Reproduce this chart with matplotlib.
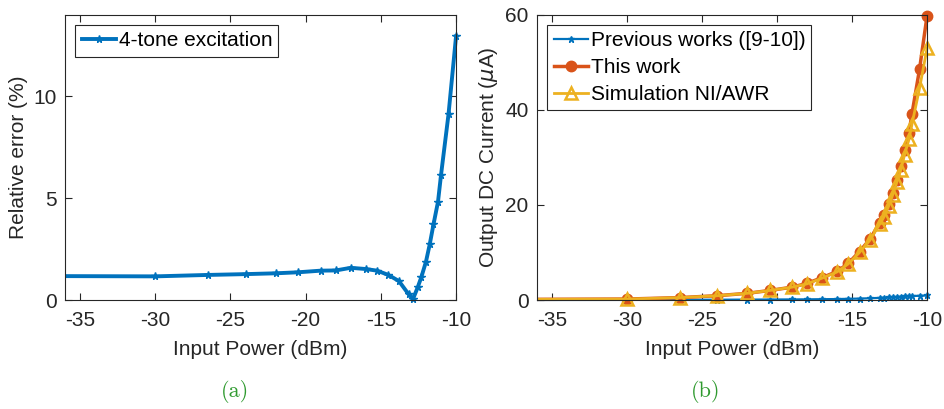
import numpy as np
import matplotlib.pyplot as plt
from matplotlib.transforms import Bbox, TransformedBbox

# input power sweep (dBm)
p_in = [-40, -30, -26.5, -24, -22, -20.5, -19, -18, -17, -16, -15.25, -14.5,
        -13.8, -13.15, -12.86, -12.55, -12.3, -12.0, -11.75, -11.5, -11.2,
        -11.0, -10.5, -10.0]

# (a) relative error (%)
rel_err = [1.18, 1.16, 1.23, 1.27, 1.31, 1.36, 1.44, 1.45, 1.58, 1.52, 1.44,
           1.23, 0.93, 0.28, 0.05, 0.62, 1.14, 1.88, 2.73, 3.71, 4.82, 6.13,
           9.12, 12.94]

# (b) output DC current (uA)
prev_works = [0.0, 0.02, 0.04, 0.06, 0.08, 0.1, 0.12, 0.14, 0.17, 0.2, 0.25,
              0.3, 0.37, 0.45, 0.5, 0.55, 0.6, 0.65, 0.7, 0.75, 0.78, 0.82,
              0.9, 0.95]
this_work = [0.1, 0.2, 0.5, 0.9, 1.4, 2.0, 2.7, 3.5, 4.7, 6.0, 7.7, 10.2, 12.8,
             16.3, 17.9, 20.2, 22.6, 25.2, 28.2, 31.5, 35.2, 39.2, 48.5, 59.7]
sim_awr = [0.1, 0.2, 0.5, 0.9, 1.4, 2.0, 2.7, 3.4, 4.6, 5.9, 7.6, 10.0, 12.6,
           16.0, 17.5, 19.8, 22.0, 24.9, 27.3, 30.5, 33.8, 37.0, 44.5, 52.9]

c_blue = '#0072BD'
c_orange = '#D95319'
c_yellow = '#EDB120'
c_ax = '#262626'

plt.rcParams['font.family'] = ['Liberation Sans', 'DejaVu Sans']
plt.rcParams['axes.unicode_minus'] = False

fig = plt.figure(figsize=(9.44, 4.09), dpi=100)
ax1 = fig.add_axes([0.0689, 0.2665, 0.4142, 0.6975])
ax2 = fig.add_axes([0.5689, 0.2665, 0.4131, 0.6975])

lines = []
lines += ax1.plot(p_in, rel_err, '-', color=c_blue, lw=2.8, marker='*', ms=5.5,
                  label='4-tone excitation')
ax1.set_xlim(-36, -10)
ax1.set_ylim(0, 14)
ax1.set_yticks([0, 5, 10])
ax1.set_ylabel('Relative error (%)', fontsize=15, color=c_ax)

lines += ax2.plot(p_in, prev_works, '-', color=c_blue, lw=1.6, marker='*', ms=4.5,
                  label='Previous works ([9-10])')
lines += ax2.plot(p_in, this_work, '-', color=c_orange, lw=2.5, marker='o', ms=7.5,
                  label='This work')
lines += ax2.plot(p_in, sim_awr, '-', color=c_yellow, lw=2.0, marker='^', ms=8,
                  mfc='none', mew=1.8, label='Simulation NI/AWR')
ax2.set_xlim(-36, -10)
ax2.set_ylim(0, 60)
ax2.set_yticks([0, 20, 40, 60])
ax2.set_ylabel(r'Output DC Current ($\mu$A)', fontsize=15, color=c_ax)

# clip only on the left side so end markers are drawn whole (like MATLAB)
for ln in lines:
    ax = ln.axes
    ln.set_clip_box(TransformedBbox(Bbox([[0, -0.05], [1.05, 1.05]]), ax.transAxes))

for ax in (ax1, ax2):
    ax.set_xticks([-35, -30, -25, -20, -15, -10])
    ax.set_xlabel('Input Power (dBm)', fontsize=15, color=c_ax, labelpad=7)
    ax.tick_params(direction='in', top=True, right=True, length=5,
                   width=0.8, labelsize=15, colors=c_ax, pad=8)
    ax.tick_params(axis='y', pad=6)
    for s in ax.spines.values():
        s.set_color(c_ax)
        s.set_linewidth(0.8)
    leg = ax.legend(loc='upper left', fancybox=False,
                    framealpha=1, edgecolor=c_ax, handlelength=1.65,
                    handletextpad=0.12, borderaxespad=0.5, borderpad=0.3,
                    labelspacing=0.38, prop={'family': 'Liberation Sans', 'size': 15})
    leg.get_frame().set_linewidth(0.8)

fig.text(0.249, 0.042, '(a)', fontsize=16, color='#2f9a2f', family='cmr10',
         ha='center', va='center')
fig.text(0.748, 0.042, '(b)', fontsize=16, color='#2f9a2f', family='cmr10',
         ha='center', va='center')

fig.savefig('out.png', dpi=100)
